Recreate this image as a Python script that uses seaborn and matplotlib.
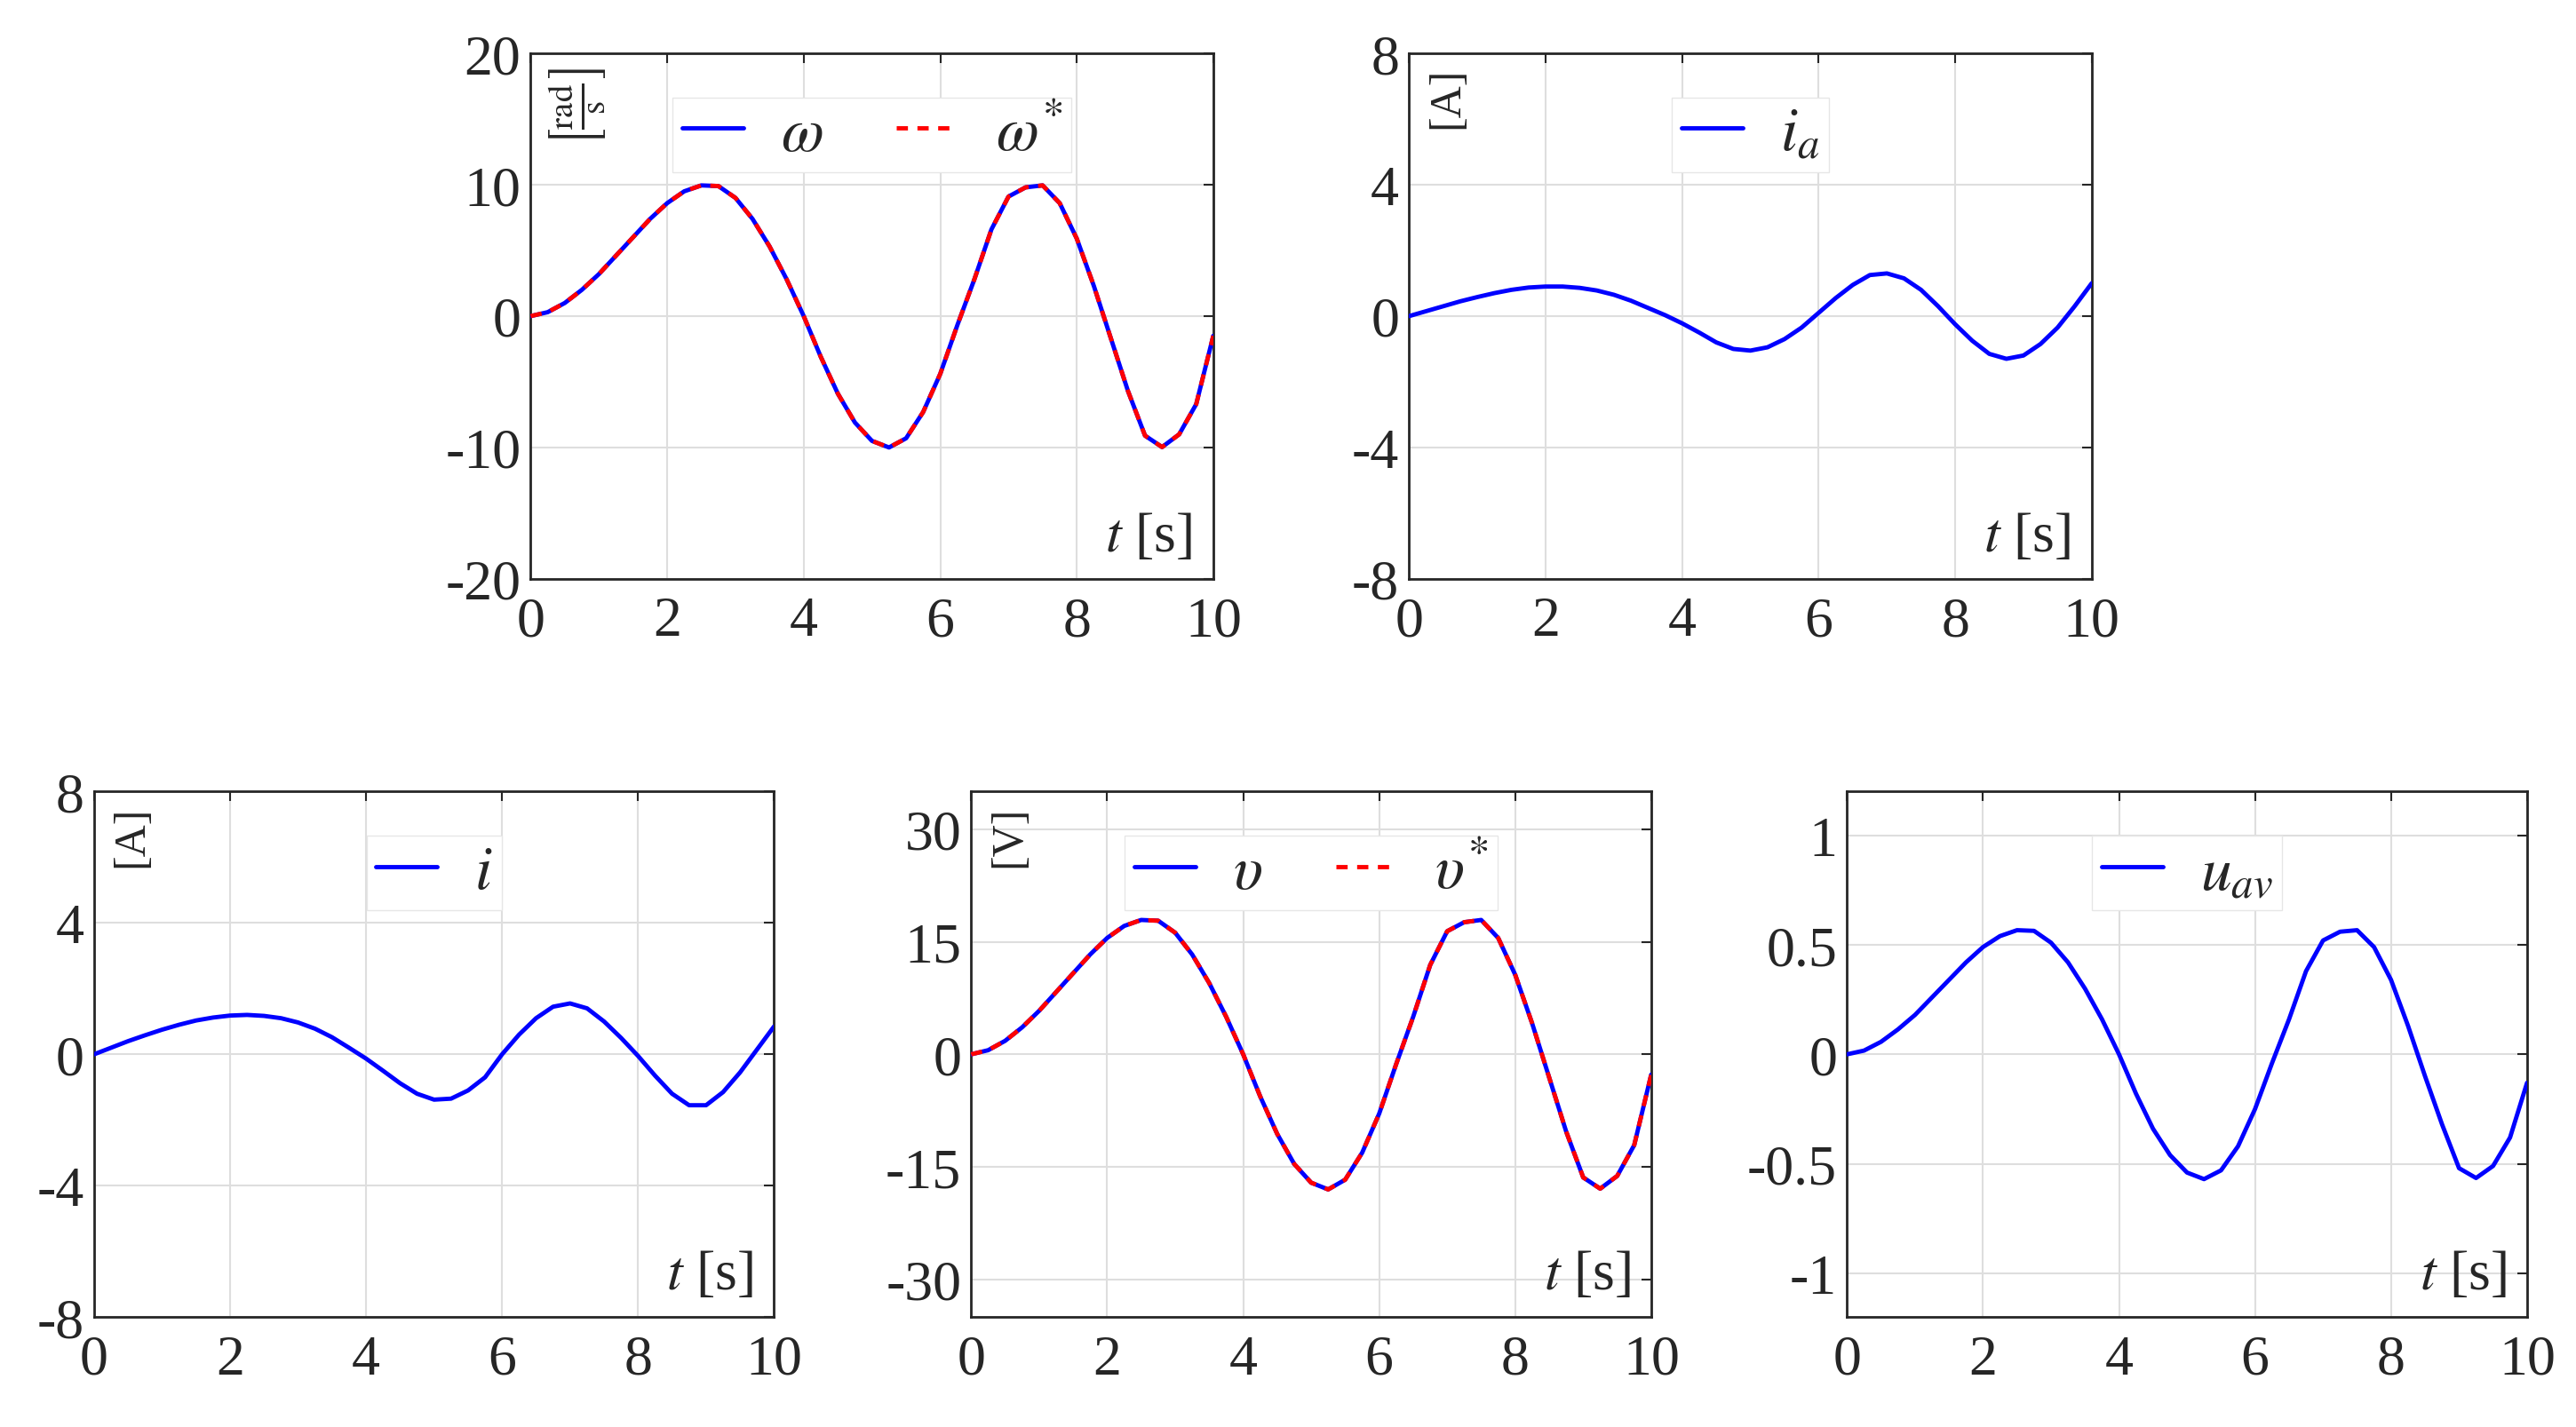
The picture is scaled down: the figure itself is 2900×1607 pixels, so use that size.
import numpy as np
import matplotlib
matplotlib.use("Agg")
import matplotlib.pyplot as plt
import seaborn as sns

t = np.arange(0, 10.01, 0.25)

omega = [0, 0.3, 1.0, 2.0, 3.2, 4.6, 6.0, 7.4, 8.6, 9.5, 9.95, 9.9, 9.0, 7.4, 5.3, 2.8, 0.0,
         -3.1, -5.9, -8.1, -9.5, -10.0, -9.3, -7.3, -4.4, -0.7, 2.8, 6.6, 9.1, 9.8, 9.95,
         8.6, 5.9, 2.3, -1.7, -5.7, -9.1, -9.97, -9.0, -6.7, -1.5]
omega_ref = omega
volt = [0, 0.55, 1.8, 3.6, 5.8, 8.3, 10.8, 13.3, 15.5, 17.1, 17.9, 17.8, 16.2, 13.3, 9.5, 5.0, 0.0,
        -5.6, -10.6, -14.6, -17.1, -18.0, -16.7, -13.1, -7.9, -1.3, 5.0, 11.9, 16.4, 17.6, 17.9,
        15.5, 10.6, 4.1, -3.1, -10.3, -16.4, -17.9, -16.2, -12.1, -2.7]
volt_ref = volt
u_av = [0, 0.017, 0.057, 0.114, 0.18, 0.26, 0.34, 0.42, 0.49, 0.54, 0.567, 0.564, 0.51, 0.42, 0.30, 0.16, 0.0,
        -0.18, -0.34, -0.46, -0.54, -0.57, -0.53, -0.42, -0.25, -0.04, 0.16, 0.38, 0.52, 0.56, 0.567,
        0.49, 0.34, 0.13, -0.10, -0.32, -0.52, -0.565, -0.51, -0.38, -0.13]
i_a = [0, 0.15, 0.3, 0.45, 0.58, 0.7, 0.8, 0.87, 0.9, 0.9, 0.86, 0.78, 0.65, 0.47, 0.25, 0.03,
       -0.22, -0.5, -0.8, -1.0, -1.05, -0.95, -0.7, -0.35, 0.1, 0.55, 0.95, 1.25, 1.3, 1.15,
       0.8, 0.3, -0.25, -0.75, -1.15, -1.3, -1.2, -0.85, -0.35, 0.3, 1.0]
i_cur = [0, 0.2, 0.4, 0.58, 0.75, 0.9, 1.03, 1.12, 1.18, 1.2, 1.17, 1.1, 0.97, 0.78, 0.52, 0.2,
         -0.13, -0.5, -0.88, -1.2, -1.38, -1.35, -1.1, -0.7, 0.0, 0.6, 1.1, 1.45, 1.55, 1.4,
         1.0, 0.5, -0.05, -0.65, -1.2, -1.55, -1.55, -1.15, -0.55, 0.15, 0.85]

sns.set_style("whitegrid")
plt.rcParams["font.family"] = "serif"
plt.rcParams["font.serif"] = ["Liberation Serif", "DejaVu Serif"]
plt.rcParams["mathtext.fontset"] = "stix"
plt.rcParams["xtick.direction"] = "in"
plt.rcParams["ytick.direction"] = "in"

fig = plt.figure(figsize=(29, 16.08), dpi=100)
FS = 46

panels = [
    ([0.206, 0.594, 0.265, 0.368], [(omega, r"$\omega$", "-"), (omega_ref, r"$\omega^{*}$", "--")],
     (-20, 20), [-20, -10, 0, 10, 20], ["-20", "-10", "0", "10", "20"],
     r"$\left[\frac{\mathrm{rad}}{\mathrm{s}}\right]$", 40),
    ([0.547, 0.594, 0.265, 0.368], [(i_a, r"$i_a$", "-")],
     (-8, 8), [-8, -4, 0, 4, 8], ["-8", "-4", "0", "4", "8"], "[A]", 36),
    ([0.0365, 0.077, 0.264, 0.368], [(i_cur, r"$i$", "-")],
     (-8, 8), [-8, -4, 0, 4, 8], ["-8", "-4", "0", "4", "8"], "[A]", 36),
    ([0.377, 0.077, 0.264, 0.368], [(volt, r"$\upsilon$", "-"), (volt_ref, r"$\upsilon^{*}$", "--")],
     (-35, 35), [-30, -15, 0, 15, 30], ["-30", "-15", "0", "15", "30"], "[V]", 36),
    ([0.717, 0.077, 0.264, 0.368], [(u_av, r"$u_{av}$", "-")],
     (-1.2, 1.2), [-1, -0.5, 0, 0.5, 1], ["-1", "-0.5", "0", "0.5", "1"], None, 36),
]

for rect, series, ylim, yt, ytl, unit, ufs in panels:
    ax = fig.add_axes(rect)
    for vals, lab, ls in series:
        if ls == "-":
            sns.lineplot(x=t, y=vals, ax=ax, color="#0000ff", lw=3.5, label=lab, zorder=4)
        else:
            sns.lineplot(x=t, y=vals, ax=ax, color="#ff0000", lw=3.5, label=lab,
                         linestyle=(0, (2.6, 2.2)), zorder=5)
    ax.set_xlim(0, 10)
    ax.set_ylim(*ylim)
    ax.set_xticks([0, 2, 4, 6, 8, 10])
    ax.set_yticks(yt)
    ax.set_yticklabels(ytl)
    ax.tick_params(labelsize=FS, length=8, width=1.5, color="#262626", top=True, right=True,
                   labelcolor="#262626")
    ax.tick_params(axis="x", pad=14)
    ax.tick_params(axis="y", pad=8)
    ax.grid(True, color="#dedede", lw=1.5)
    for s in ax.spines.values():
        s.set_color("#262626")
        s.set_linewidth(2)
    ax.text(0.97, 0.03, r"$t$ [s]", transform=ax.transAxes, ha="right", va="bottom", fontsize=FS)
    if unit:
        ax.text(0.025, 0.975, unit, transform=ax.transAxes, ha="left", va="top", rotation=90, fontsize=ufs)
    leg = ax.legend(loc="upper center", bbox_to_anchor=(0.5, 0.975), ncol=len(series), fontsize=50,
                    frameon=True, fancybox=False, edgecolor="#e6e6e6", framealpha=1,
                    handlelength=1.0, handletextpad=0.6, columnspacing=1.2, borderpad=0.15)
    leg.set_zorder(2)
    ax.set_xlabel("")
    ax.set_ylabel("")

fig.savefig("out.png", dpi=100)
